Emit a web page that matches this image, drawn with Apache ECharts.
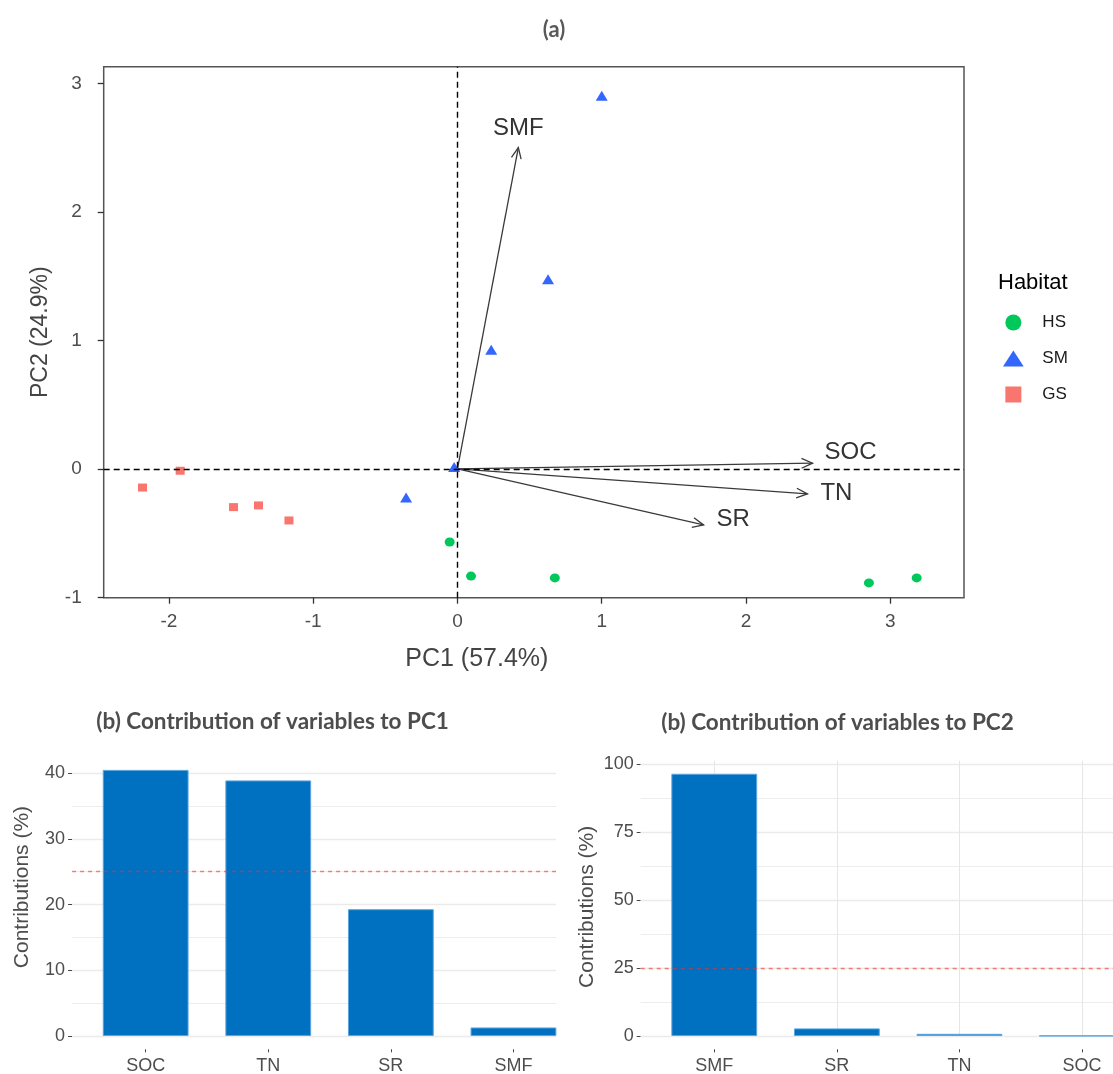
<!DOCTYPE html>
<html>
<head>
<meta charset="utf-8">
<title>PCA biplot and variable contributions</title>
<script src="https://cdn.jsdelivr.net/npm/echarts@6/dist/echarts.min.js"></script>
<style>
  html, body { margin: 0; padding: 0; background: #ffffff; }
  #chart { width: 1113px; height: 1074px; }
</style>
</head>
<body>
<div id="chart"></div>
<script>
// ---- PCA individuals (scores on PC1, PC2) grouped by habitat ----
const habitats = ['HS', 'SM', 'GS'];
const hsScores = [[-0.054, -0.570], [0.094, -0.835], [0.675, -0.849], [2.852, -0.888], [3.183, -0.849]];
const smScores = [[1.000, 2.903], [0.628, 1.475], [0.234, 0.927], [-0.023, 0.014], [-0.356, -0.223]];
const gsScores = [[-2.183, -0.146], [-1.922, -0.015], [-1.552, -0.298], [-1.379, -0.285], [-1.168, -0.402]];

// ---- Variable loadings (arrow tips) ----
const variableNames = ['SMF', 'SOC', 'TN', 'SR'];
const loadingPC1 = [0.422, 2.461, 2.426, 1.706];
const loadingPC2 = [2.500, 0.044, -0.195, -0.437];

// ---- Contributions of variables (%) ----
const pc1Vars = ['SOC', 'TN', 'SR', 'SMF'];
const pc1Contrib = [40.5, 38.9, 19.3, 1.3];
const pc2Vars = ['SMF', 'SR', 'TN', 'SOC'];
const pc2Contrib = [96.4, 2.8, 0.8, 0.1];
const expectedContrib = 25;

// ---- Tick labels ----
const pc1Ticks = [-2, -1, 0, 1, 2, 3];
const pc2Ticks = [-1, 0, 1, 2, 3];
const contrib1Ticks = [0, 10, 20, 30, 40];
const contrib2Ticks = [0, 25, 50, 75, 100];

// ---------------------------------------------------------------
const AXIS_FONT = '"Liberation Sans", Arial, sans-serif';
const TITLE_FONT = 'Lato, "Open Sans", sans-serif';
const LABEL_GREY = '#4d4d4d';
const TICK_GREY = '#444444';

const habitatScores = { HS: hsScores, SM: smScores, GS: gsScores };
const habitatStyle = {
  HS: { symbol: 'circle', size: [10, 9], color: '#00C85A', icon: 'circle' },
  SM: { symbol: 'triangle', size: [12, 10], color: '#3366FF', icon: 'path://M11,0L22,17L0,17Z' },
  GS: { symbol: 'rect', size: [9, 8], color: '#F8766D', icon: 'path://M0,0L16,0L16,16L0,16Z' }
};

// where each variable name sits relative to its arrow tip
const arrowLabelPlacement = {
  SMF: { dx: 0, dy: -19, align: 'center' },
  SOC: { dx: 12, dy: -11, align: 'left' },
  TN: { dx: 13, dy: 0, align: 'left' },
  SR: { dx: 13, dy: -6, align: 'left' }
};

function midpoints(ticks) {
  const out = [];
  for (let i = 0; i < ticks.length - 1; i++) out.push((ticks[i] + ticks[i + 1]) / 2);
  return out;
}
function gridLineData(ticks) {
  return ticks.map(v => ({ yAxis: v, lineStyle: { width: 1.3 } }))
    .concat(midpoints(ticks).map(v => ({ yAxis: v, lineStyle: { width: 0.9 } })));
}
const catPositions = arr => arr.map((_, i) => i + 1);

const chart = echarts.init(document.getElementById('chart'), null, { renderer: 'canvas' });

const series = [];

// habitat points
habitats.forEach(h => {
  const st = habitatStyle[h];
  series.push({
    type: 'scatter',
    name: h,
    xAxisIndex: 0,
    yAxisIndex: 0,
    data: habitatScores[h],
    symbol: st.symbol,
    symbolSize: st.size,
    itemStyle: { color: st.color, opacity: 1 },
    z: 4,
    silent: true
  });
});

// loading arrows with names, plus dashed zero lines
series.push({
  type: 'custom',
  name: 'loadings',
  xAxisIndex: 0,
  yAxisIndex: 0,
  data: variableNames.map((n, i) => [loadingPC1[i], loadingPC2[i]]),
  z: 3,
  silent: true,
  renderItem: function (params, api) {
    const p0 = api.coord([0, 0]);
    const p1 = api.coord([api.value(0), api.value(1)]);
    const ang = Math.atan2(p1[1] - p0[1], p1[0] - p0[0]);
    const L = 12, A = 0.42;
    const h1 = [p1[0] - L * Math.cos(ang - A), p1[1] - L * Math.sin(ang - A)];
    const h2 = [p1[0] - L * Math.cos(ang + A), p1[1] - L * Math.sin(ang + A)];
    const name = variableNames[params.dataIndex];
    const lab = arrowLabelPlacement[name];
    return {
      type: 'group',
      children: [
        { type: 'line', shape: { x1: p0[0], y1: p0[1], x2: p1[0], y2: p1[1] },
          style: { stroke: '#3a3a3a', lineWidth: 1.3 } },
        { type: 'polyline', shape: { points: [h1, p1, h2] },
          style: { stroke: '#3a3a3a', lineWidth: 1.3, fill: null } },
        { type: 'text', x: p1[0] + lab.dx, y: p1[1] + lab.dy,
          style: { text: name, fill: '#333333', fontSize: 24, fontFamily: AXIS_FONT,
                   align: lab.align, verticalAlign: 'middle' } }
      ]
    };
  },
  markLine: {
    silent: true,
    symbol: ['none', 'none'],
    label: { show: false },
    lineStyle: { color: '#000000', type: [6, 4], width: 1.4 },
    data: [{ xAxis: 0 }, { yAxis: 0 }]
  }
});

// gridlines for the contribution panels
series.push({
  type: 'line', xAxisIndex: 1, yAxisIndex: 1, data: [], silent: true, z: 0,
  markLine: {
    silent: true, z: 1, symbol: ['none', 'none'], label: { show: false },
    lineStyle: { color: '#ebebeb', type: 'solid' },
    data: gridLineData(contrib1Ticks)
  }
});
series.push({
  type: 'line', xAxisIndex: 2, yAxisIndex: 2, data: [], silent: true, z: 0,
  markLine: {
    silent: true, z: 1, symbol: ['none', 'none'], label: { show: false },
    lineStyle: { color: '#ebebeb', type: 'solid' },
    data: gridLineData(contrib2Ticks).concat(
      catPositions(pc2Vars).map(v => ({ xAxis: v, lineStyle: { width: 1, color: '#e6e6e6' } })))
  }
});

// contribution bars
function contribBars(axisIdx, values) {
  return {
    type: 'bar',
    xAxisIndex: axisIdx,
    yAxisIndex: axisIdx,
    data: values.map((v, i) => [i + 1, v]),
    barWidth: 85.8,
    itemStyle: { color: '#0070C0', borderColor: '#5BA4DE', borderWidth: 1 },
    silent: true,
    z: 2,
    markLine: {
      silent: true, symbol: ['none', 'none'], label: { show: false },
      lineStyle: { color: 'rgba(255,40,40,0.6)', type: [4, 4], width: 1.3 },
      data: [{ yAxis: expectedContrib }]
    }
  };
}
series.push(contribBars(1, pc1Contrib));
series.push(contribBars(2, pc2Contrib));

function catAxis(gridIndex, names, max) {
  const pos = catPositions(names);
  return {
    gridIndex, type: 'value', min: 0.4, max, offset: 13.3,
    axisLine: { show: false, onZero: false },
    axisTick: { show: true, customValues: pos, length: 3, lineStyle: { color: TICK_GREY, width: 1 } },
    axisLabel: { show: true, customValues: pos, formatter: v => names[Math.round(v) - 1],
                 fontSize: 18, color: LABEL_GREY, fontFamily: AXIS_FONT, margin: 8 },
    splitLine: { show: false }, minorSplitLine: { show: false }
  };
}
function contribAxis(gridIndex, ticks, max, nameGap, padding) {
  return {
    gridIndex, type: 'value', min: 0, max,
    axisLine: { show: false, onZero: false },
    axisTick: { show: true, customValues: ticks, length: 4, lineStyle: { color: TICK_GREY, width: 1 } },
    axisLabel: { show: true, customValues: ticks, fontSize: 18, color: LABEL_GREY, fontFamily: AXIS_FONT, margin: 7 },
    splitLine: { show: false },
    name: 'Contributions (%)', nameLocation: 'middle', nameRotate: 90, nameGap,
    nameTextStyle: { fontSize: 21, color: '#4d4d4d', fontFamily: AXIS_FONT, padding }
  };
}

const option = {
  animation: false,
  backgroundColor: '#ffffff',
  textStyle: { fontFamily: AXIS_FONT },
  grid: [
    { left: 103.7, top: 66.7, width: 860.3, height: 531, show: true,
      borderColor: '#555555', borderWidth: 1.5, backgroundColor: 'transparent', outerBoundsMode: 'none' },
    { left: 72.1, top: 756.1, width: 483.9, height: 279.9, outerBoundsMode: 'none' },
    { left: 640.7, top: 760.7, width: 472.3, height: 275.3, outerBoundsMode: 'none' }
  ],
  xAxis: [
    {
      gridIndex: 0, type: 'value', min: -2.452, max: 3.511,
      axisLine: { show: false, onZero: false },
      axisTick: { show: true, customValues: pc1Ticks, length: 6, lineStyle: { color: '#333333', width: 1.3 } },
      axisLabel: { show: true, customValues: pc1Ticks, fontSize: 19, color: LABEL_GREY, fontFamily: AXIS_FONT, margin: 15 },
      splitLine: { show: false },
      name: 'PC1 (57.4%)', nameLocation: 'middle', nameGap: 49,
      nameTextStyle: { fontSize: 25, color: '#444444', fontFamily: AXIS_FONT, padding: [0, 114, 0, 0] }
    },
    catAxis(1, pc1Vars, 0.4 + 483.9 / 122.6),
    catAxis(2, pc2Vars, 0.4 + 472.3 / 122.6)
  ],
  yAxis: [
    {
      gridIndex: 0, type: 'value', min: -1.003, max: 3.129,
      axisLine: { show: false, onZero: false },
      axisTick: { show: true, customValues: pc2Ticks, length: 6, lineStyle: { color: '#333333', width: 1.3 } },
      axisLabel: { show: true, customValues: pc2Ticks, fontSize: 19, color: LABEL_GREY, fontFamily: AXIS_FONT, margin: 22 },
      splitLine: { show: false },
      name: 'PC2 (24.9%)', nameLocation: 'middle', nameRotate: 90, nameGap: 52,
      nameTextStyle: { fontSize: 23, color: '#444444', fontFamily: AXIS_FONT }
    },
    contribAxis(1, contrib1Ticks, 42.6, 39, [0, 0, 0, 18]),
    contribAxis(2, contrib2Ticks, 101.2, 43, [0, 17, 0, 0])
  ],
  legend: {
    data: habitats.map(h => ({ name: h, icon: habitatStyle[h].icon })),
    orient: 'vertical', left: 998, top: 309,
    itemWidth: 48, itemHeight: 16, itemGap: 19,
    selectedMode: false,
    textStyle: { fontSize: 17, color: '#1a1a1a', fontFamily: AXIS_FONT }
  },
  graphic: [
    { type: 'text', x: 554, y: 30, silent: true,
      style: { text: '(a)', fontSize: 22, fontWeight: 'bold', fontFamily: TITLE_FONT, fill: '#595959',
               align: 'center', verticalAlign: 'middle' } },
    { type: 'text', x: 998, y: 283, silent: true,
      style: { text: 'Habitat', fontSize: 22, fontFamily: AXIS_FONT, fill: '#000000',
               align: 'left', verticalAlign: 'middle' } },
    { type: 'text', x: 272.6, y: 722, silent: true,
      style: { text: '(b) Contribution of variables to PC1', fontSize: 22.5, fontWeight: 'bold',
               fontFamily: TITLE_FONT, fill: '#4d4d4d', align: 'center', verticalAlign: 'middle' } },
    { type: 'text', x: 837.5, y: 722.5, silent: true,
      style: { text: '(b) Contribution of variables to PC2', fontSize: 22.5, fontWeight: 'bold',
               fontFamily: TITLE_FONT, fill: '#4d4d4d', align: 'center', verticalAlign: 'middle' } }
  ],
  series
};

chart.setOption(option);
</script>
</body>
</html>
